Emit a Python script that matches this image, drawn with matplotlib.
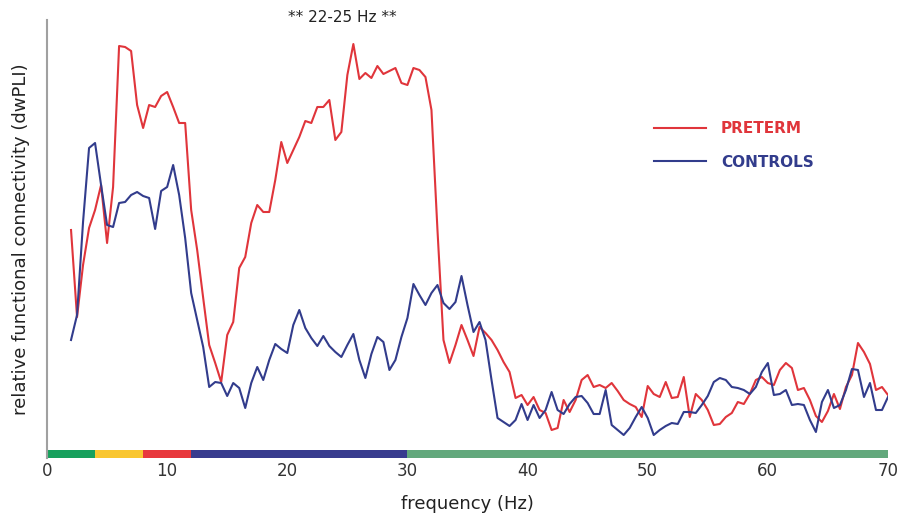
import numpy as np
import matplotlib
matplotlib.use('Agg')
import matplotlib.pyplot as plt

# frequencies (Hz), 0.5 Hz steps from 2 to 70
freqs = np.arange(2, 70.5, 0.5)

preterm = [
    0.225, 0.138, 0.190, 0.227, 0.245, 0.270, 0.212, 0.268, 0.409, 0.408,
    0.404, 0.350, 0.327, 0.350, 0.348, 0.359, 0.363, 0.348, 0.332, 0.332,
    0.245, 0.205, 0.157, 0.110, 0.092, 0.073, 0.120, 0.133, 0.187, 0.198,
    0.232, 0.250, 0.243, 0.243, 0.275, 0.313, 0.292, 0.305, 0.318, 0.334,
    0.332, 0.348, 0.348, 0.355, 0.315, 0.323, 0.380, 0.411, 0.376, 0.382,
    0.377, 0.389, 0.381, 0.384, 0.387, 0.372, 0.370, 0.387, 0.385, 0.378,
    0.345, 0.225, 0.115, 0.092, 0.110, 0.130, 0.115, 0.099, 0.128, 0.122,
    0.115, 0.105, 0.093, 0.083, 0.057, 0.060, 0.050, 0.058, 0.045, 0.042,
    0.025, 0.027, 0.055, 0.043, 0.055, 0.075, 0.080, 0.068, 0.070, 0.067,
    0.072, 0.064, 0.055, 0.051, 0.048, 0.038, 0.069, 0.061, 0.058, 0.073,
    0.057, 0.058, 0.078, 0.038, 0.061, 0.055, 0.045, 0.030, 0.031, 0.038,
    0.042, 0.053, 0.051, 0.061, 0.075, 0.078, 0.072, 0.070, 0.085, 0.092,
    0.087, 0.065, 0.067, 0.055, 0.039, 0.033, 0.044, 0.061, 0.046, 0.068,
    0.080, 0.112, 0.103, 0.091, 0.065, 0.068, 0.060,
]

controls = [
    0.115, 0.140, 0.233, 0.307, 0.312, 0.270, 0.230, 0.228, 0.252, 0.253,
    0.260, 0.263, 0.259, 0.257, 0.226, 0.264, 0.268, 0.290, 0.260, 0.217,
    0.162, 0.135, 0.108, 0.068, 0.073, 0.072, 0.059, 0.072, 0.067, 0.047,
    0.072, 0.088, 0.075, 0.095, 0.111, 0.106, 0.102, 0.130, 0.145, 0.127,
    0.117, 0.109, 0.119, 0.109, 0.103, 0.098, 0.110, 0.121, 0.095, 0.077,
    0.101, 0.118, 0.113, 0.085, 0.095, 0.118, 0.137, 0.171, 0.160, 0.150,
    0.162, 0.170, 0.152, 0.146, 0.153, 0.179, 0.150, 0.123, 0.133, 0.115,
    0.075, 0.037, 0.033, 0.029, 0.035, 0.051, 0.035, 0.050, 0.037, 0.045,
    0.063, 0.045, 0.041, 0.051, 0.058, 0.059, 0.052, 0.041, 0.041, 0.065,
    0.030, 0.025, 0.020, 0.027, 0.038, 0.048, 0.037, 0.020, 0.025, 0.029,
    0.032, 0.031, 0.043, 0.043, 0.042, 0.050, 0.059, 0.073, 0.077, 0.075,
    0.068, 0.067, 0.065, 0.061, 0.068, 0.083, 0.092, 0.060, 0.061, 0.065,
    0.050, 0.051, 0.050, 0.035, 0.023, 0.053, 0.065, 0.047, 0.050, 0.065,
    0.086, 0.085, 0.058, 0.072, 0.045, 0.045, 0.058,
]

# frequency bands shown as a coloured strip under the curves
band_edges = [(0, 4), (4, 8), (8, 12), (12, 30), (30, 70)]
band_colors = ['#17a05d', '#f9c630', '#e8383d', '#383c8e', '#62a87c']

red = '#e0353b'
navy = '#323c8c'

fig = plt.figure(figsize=(9.01, 5.17), dpi=100)
ax = fig.add_axes([47 / 901, 1 - 458 / 517, 841 / 901, 438 / 517])

ax.plot(freqs, preterm, color=red, lw=1.5, label='PRETERM')
ax.plot(freqs, controls, color=navy, lw=1.5, label='CONTROLS')

# band strip
ax.broken_barh([(a, b - a) for a, b in band_edges], (-0.003, 0.008),
               facecolors=band_colors)

ax.set_xlim(0, 70)
ax.set_ylim(-0.003, 0.435)

for s in ['top', 'right', 'bottom']:
    ax.spines[s].set_visible(False)
ax.spines['left'].set_color('#a0a0a0')
ax.spines['left'].set_linewidth(1.5)

ax.set_yticks([])
ax.set_xticks(range(0, 71, 10))
ax.tick_params(axis='x', length=0, pad=3, labelsize=12, labelcolor='#333333')

ax.set_xlabel('frequency (Hz)', fontsize=13, color='#222222', labelpad=11)
ax.set_ylabel('relative functional connectivity (dwPLI)', fontsize=13,
              color='#222222', labelpad=12)

ax.text(24.6, 0.438, '** 22-25 Hz **', ha='center', va='center',
        fontsize=11, color='#222222')

leg = ax.legend(loc='upper left', bbox_to_anchor=(0.705, 0.80), frameon=False,
                handlelength=3.4, handletextpad=1.0, labelspacing=1.2,
                labelcolor='linecolor', prop={'weight': 'bold', 'size': 11})

fig.savefig('out.png', dpi=100)
